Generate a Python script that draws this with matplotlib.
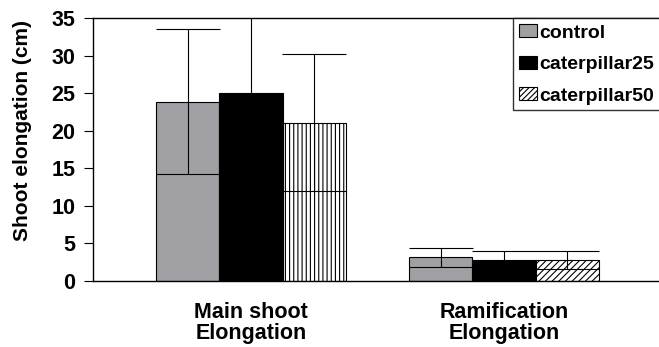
import matplotlib
matplotlib.use("Agg")
import matplotlib.pyplot as plt
from matplotlib.patches import Patch
import numpy as np

# Data
groups = ["Main shoot\nElongation", "Ramification\nElongation"]
series = ["control", "caterpillar25", "caterpillar50"]
means = {
    "control": [23.9, 3.15],
    "caterpillar25": [25.1, 2.85],
    "caterpillar50": [21.1, 2.85],
}
sds = {
    "control": [9.7, 1.3],
    "caterpillar25": [10.5, 1.2],
    "caterpillar50": [9.1, 1.2],
}
yticks = [0, 5, 10, 15, 20, 25, 30, 35]

plt.rcParams["font.family"] = ["Liberation Sans", "DejaVu Sans"]
plt.rcParams["font.weight"] = "bold"
plt.rcParams["hatch.linewidth"] = 0.8

W, H, DPI = 659, 347, 100
fig = plt.figure(figsize=(W / DPI, H / DPI), dpi=DPI)

# axes placement in pixels (right edge runs just past the canvas)
left_px, right_px, top_px, bot_px = 92.7, 662.3, 18.3, 281.0
ax = fig.add_axes([left_px / W, 1 - bot_px / H,
                   (right_px - left_px) / W, (bot_px - top_px) / H])

x = np.arange(len(groups))
width = 0.25
offsets = [-width, 0.0, width]
fills = {"control": "#A0A0A4", "caterpillar25": "#000000", "caterpillar50": "#FFFFFF"}
# per-group hatching of the third series
hatches = {"control": [None, None], "caterpillar25": [None, None],
           "caterpillar50": ["||||", "/////"]}

ax.set_xlim(-0.6257, 1.6257)
ax.set_ylim(0, 35)

# cap length in points equal to a bar's width
px_per_unit = (right_px - left_px) / (1.6257 + 0.6257)
cap_pts = width * px_per_unit * 72 / DPI / 2

for s, off in zip(series, offsets):
    bars = ax.bar(x + off, means[s], width, color=fills[s], edgecolor="black",
                  linewidth=0.8, zorder=2)
    for b, h in zip(bars, hatches[s]):
        if h:
            b.set_hatch(h)
    ax.errorbar(x + off, means[s], yerr=sds[s], fmt="none", ecolor="black",
                elinewidth=0.8, capsize=cap_pts, capthick=0.8, zorder=3)

# legend proxies (third series shown with diagonal hatch)
proxies = [Patch(facecolor=fills["control"], edgecolor="black", linewidth=0.8),
           Patch(facecolor=fills["caterpillar25"], edgecolor="black", linewidth=0.8),
           Patch(facecolor="white", edgecolor="black", linewidth=0.8, hatch="//////")]
leg = ax.legend(proxies, series, loc="upper left",
                bbox_to_anchor=((512.7 - left_px) / (right_px - left_px), 1.0),
                borderaxespad=0, frameon=True, fancybox=False, edgecolor="black",
                prop={"size": 14, "weight": "bold"}, handlelength=0.95,
                handleheight=0.68, handletextpad=0.1, labelspacing=0.72,
                borderpad=0.3)
leg.get_frame().set_linewidth(1.0)

ax.set_yticks(yticks)
ax.set_yticklabels([str(v) for v in yticks], fontsize=15.5, fontweight="bold")
ax.tick_params(axis="y", direction="out", length=6.5, width=0.8, pad=6)
ax.set_xticks(x)
ax.set_xticklabels(groups, fontsize=15.5, fontweight="bold", linespacing=1.0)
ax.tick_params(axis="x", length=0, pad=15)
ax.set_ylabel("Shoot elongation (cm)", fontsize=15, fontweight="bold")
ax.yaxis.set_label_coords(-0.1066, 0.572)

for sp in ax.spines.values():
    sp.set_linewidth(1.0)

fig.savefig("out.png", dpi=DPI)
